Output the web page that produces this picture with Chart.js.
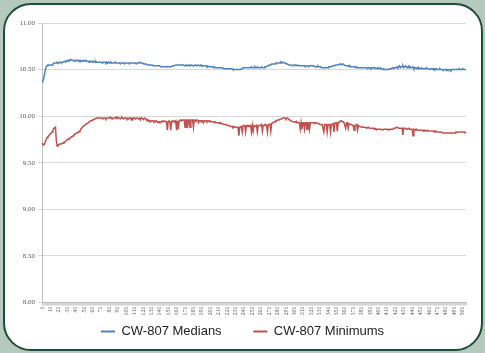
<!DOCTYPE html>
<html><head><meta charset="utf-8">
<script src="https://cdn.jsdelivr.net/npm/chart.js@4.4.0/dist/chart.umd.min.js"></script>
<style>
html,body{margin:0;padding:0;background:#b5c9bf;width:485px;height:353px;overflow:hidden;}
#frame{position:absolute;left:3px;top:3px;width:476px;height:344px;border:2px solid #1f4e36;border-radius:28px;background:#fff;}
#c{position:absolute;left:0;top:0;}
</style></head><body>
<div id="frame"></div>
<canvas id="c" width="485" height="353"></canvas>
<script>
const seriesNames = ['CW-807 Medians', 'CW-807 Minimums'];
const categories = Array.from({length: 505}, (_, i) => String(i + 1));
const yMin = 8, yMax = 11, yStep = 0.5;

const medians = [
10.37,10.38,10.40,10.45,10.50,10.53,10.54,10.55,10.55,10.55,
10.55,10.55,10.55,10.56,10.57,10.57,10.57,10.57,10.58,10.57,
10.57,10.58,10.58,10.57,10.58,10.58,10.58,10.59,10.58,10.59,
10.60,10.59,10.60,10.60,10.61,10.60,10.60,10.60,10.60,10.59,
10.60,10.60,10.59,10.60,10.60,10.59,10.60,10.59,10.59,10.60,
10.59,10.59,10.60,10.59,10.59,10.59,10.58,10.59,10.59,10.59,
10.58,10.59,10.58,10.58,10.59,10.58,10.58,10.58,10.58,10.58,
10.58,10.58,10.57,10.58,10.58,10.58,10.57,10.58,10.57,10.58,
10.57,10.57,10.58,10.57,10.57,10.57,10.57,10.58,10.57,10.57,
10.57,10.57,10.57,10.56,10.57,10.57,10.57,10.57,10.56,10.57,
10.57,10.57,10.57,10.57,10.56,10.57,10.57,10.57,10.57,10.57,
10.57,10.57,10.56,10.57,10.57,10.57,10.58,10.57,10.57,10.57,
10.57,10.56,10.56,10.56,10.56,10.55,10.55,10.55,10.55,10.55,
10.55,10.55,10.54,10.54,10.54,10.54,10.54,10.54,10.54,10.54,
10.54,10.53,10.53,10.53,10.53,10.53,10.53,10.53,10.53,10.53,
10.53,10.53,10.53,10.53,10.53,10.54,10.54,10.54,10.54,10.55,
10.55,10.55,10.55,10.55,10.55,10.55,10.55,10.55,10.55,10.54,
10.54,10.55,10.55,10.54,10.54,10.55,10.54,10.54,10.55,10.54,
10.54,10.54,10.55,10.55,10.54,10.55,10.55,10.54,10.54,10.55,
10.54,10.54,10.54,10.54,10.54,10.54,10.53,10.54,10.53,10.53,
10.53,10.53,10.53,10.53,10.52,10.53,10.52,10.52,10.52,10.52,
10.52,10.52,10.52,10.52,10.52,10.52,10.51,10.51,10.51,10.51,
10.51,10.51,10.51,10.51,10.51,10.51,10.51,10.50,10.50,10.50,
10.50,10.50,10.50,10.50,10.50,10.50,10.50,10.51,10.51,10.52,
10.52,10.52,10.52,10.52,10.52,10.52,10.52,10.52,10.52,10.53,
10.52,10.52,10.52,10.53,10.52,10.52,10.53,10.52,10.52,10.52,
10.52,10.53,10.52,10.52,10.52,10.53,10.53,10.53,10.54,10.54,
10.55,10.55,10.55,10.56,10.56,10.56,10.56,10.56,10.57,10.57,
10.57,10.57,10.57,10.57,10.58,10.57,10.58,10.58,10.57,10.57,
10.57,10.56,10.56,10.55,10.55,10.55,10.55,10.55,10.54,10.55,
10.55,10.55,10.54,10.54,10.55,10.54,10.54,10.54,10.54,10.54,
10.54,10.54,10.54,10.53,10.54,10.54,10.54,10.53,10.54,10.54,
10.54,10.54,10.54,10.54,10.53,10.53,10.53,10.53,10.54,10.53,
10.53,10.53,10.52,10.52,10.52,10.52,10.52,10.52,10.52,10.52,
10.52,10.53,10.53,10.53,10.53,10.54,10.54,10.54,10.54,10.55,
10.55,10.55,10.55,10.55,10.56,10.56,10.55,10.56,10.56,10.55,
10.55,10.54,10.54,10.54,10.54,10.53,10.54,10.53,10.53,10.53,
10.53,10.53,10.53,10.52,10.53,10.52,10.52,10.52,10.52,10.52,
10.52,10.52,10.52,10.52,10.52,10.52,10.52,10.51,10.52,10.52,
10.52,10.51,10.52,10.52,10.52,10.51,10.52,10.52,10.51,10.52,
10.51,10.51,10.52,10.51,10.51,10.50,10.51,10.50,10.50,10.50,
10.50,10.50,10.50,10.51,10.51,10.51,10.51,10.52,10.51,10.52,
10.52,10.52,10.53,10.52,10.53,10.54,10.52,10.53,10.53,10.54,
10.52,10.53,10.54,10.53,10.52,10.53,10.54,10.52,10.53,10.52,
10.52,10.53,10.51,10.52,10.52,10.51,10.52,10.51,10.52,10.51,
10.51,10.52,10.51,10.51,10.51,10.51,10.51,10.52,10.51,10.51,
10.51,10.50,10.51,10.51,10.51,10.50,10.51,10.50,10.51,10.51,
10.50,10.50,10.50,10.51,10.50,10.50,10.50,10.49,10.50,10.50,
10.50,10.49,10.50,10.49,10.50,10.50,10.49,10.50,10.50,10.50,
10.50,10.50,10.50,10.50,10.50,10.50,10.51,10.50,10.50,10.50,
10.51,10.50,10.50,10.50,10.50
];

const minimums = [
9.71,9.70,9.69,9.70,9.73,9.75,9.77,9.78,9.79,9.80,
9.81,9.82,9.83,9.85,9.87,9.87,9.88,9.74,9.68,9.69,
9.69,9.70,9.70,9.70,9.71,9.71,9.72,9.72,9.73,9.74,
9.75,9.75,9.76,9.76,9.77,9.78,9.78,9.79,9.80,9.81,
9.81,9.82,9.82,9.83,9.83,9.84,9.86,9.87,9.88,9.89,
9.90,9.90,9.91,9.92,9.92,9.93,9.94,9.94,9.95,9.95,
9.96,9.96,9.97,9.97,9.97,9.98,9.98,9.98,9.98,9.98,
9.98,9.98,9.97,9.98,9.98,9.98,9.97,9.98,9.98,9.98,
9.98,9.99,9.98,9.98,9.97,9.98,9.98,9.98,9.99,9.98,
9.99,9.98,9.98,9.97,9.98,9.99,9.98,9.97,9.98,9.98,
9.98,9.97,9.98,9.97,9.98,9.98,9.96,9.98,9.97,9.98,
9.98,9.97,9.98,9.98,9.98,9.97,9.98,9.96,9.98,9.98,
9.97,9.97,9.98,9.97,9.97,9.95,9.96,9.95,9.95,9.94,
9.95,9.95,9.95,9.94,9.95,9.94,9.95,9.94,9.93,9.94,
9.94,9.93,9.94,9.95,9.94,9.94,9.95,9.94,9.94,9.85,
9.94,9.95,9.94,9.85,9.94,9.95,9.94,9.95,9.94,9.95,
9.85,9.95,9.86,9.95,9.95,9.96,9.95,9.96,9.96,9.96,
9.88,9.96,9.96,9.87,9.96,9.96,9.88,9.96,9.96,9.96,
9.88,9.96,9.96,9.95,9.96,9.96,9.93,9.95,9.95,9.94,
9.95,9.95,9.93,9.95,9.95,9.95,9.94,9.95,9.95,9.94,
9.95,9.94,9.94,9.94,9.94,9.93,9.94,9.93,9.93,9.93,
9.93,9.92,9.93,9.92,9.92,9.92,9.91,9.91,9.91,9.91,
9.90,9.90,9.90,9.90,9.89,9.89,9.89,9.88,9.89,9.88,
9.88,9.88,9.88,9.88,9.79,9.88,9.89,9.89,9.83,9.90,
9.90,9.90,9.83,9.90,9.90,9.89,9.90,9.90,9.90,9.83,
9.90,9.84,9.90,9.90,9.89,9.90,9.83,9.90,9.90,9.90,
9.90,9.91,9.84,9.90,9.90,9.91,9.91,9.90,9.83,9.91,
9.91,9.92,9.84,9.92,9.93,9.93,9.94,9.94,9.95,9.95,
9.96,9.96,9.96,9.97,9.97,9.97,9.98,9.98,9.98,9.98,
9.97,9.98,9.98,9.97,9.96,9.96,9.95,9.95,9.94,9.94,
9.94,9.94,9.93,9.94,9.93,9.93,9.93,9.86,9.93,9.86,
9.93,9.93,9.86,9.93,9.93,9.86,9.93,9.93,9.86,9.93,
9.93,9.93,9.93,9.93,9.92,9.93,9.93,9.92,9.92,9.92,
9.91,9.91,9.91,9.91,9.91,9.83,9.91,9.91,9.91,9.83,
9.91,9.91,9.91,9.83,9.91,9.91,9.92,9.83,9.92,9.93,
9.93,9.84,9.93,9.94,9.94,9.95,9.95,9.94,9.94,9.93,
9.93,9.87,9.93,9.93,9.87,9.92,9.92,9.91,9.91,9.90,
9.90,9.85,9.90,9.90,9.91,9.85,9.90,9.89,9.89,9.89,
9.88,9.88,9.88,9.88,9.88,9.88,9.87,9.88,9.88,9.87,
9.87,9.87,9.87,9.87,9.87,9.86,9.87,9.86,9.86,9.86,
9.86,9.86,9.86,9.86,9.86,9.85,9.86,9.86,9.86,9.86,
9.86,9.86,9.85,9.86,9.86,9.86,9.86,9.86,9.87,9.87,
9.87,9.88,9.88,9.88,9.87,9.87,9.87,9.87,9.87,9.80,
9.87,9.87,9.87,9.86,9.86,9.86,9.87,9.86,9.86,9.86,
9.86,9.79,9.86,9.86,9.85,9.86,9.85,9.85,9.85,9.85,
9.85,9.85,9.85,9.84,9.85,9.85,9.84,9.84,9.85,9.84,
9.84,9.84,9.84,9.84,9.84,9.84,9.83,9.84,9.84,9.83,
9.83,9.83,9.83,9.83,9.83,9.83,9.82,9.82,9.82,9.82,
9.82,9.82,9.82,9.82,9.82,9.82,9.82,9.82,9.82,9.82,
9.82,9.82,9.83,9.83,9.83,9.83,9.83,9.83,9.83,9.83,
9.83,9.83,9.83,9.82,9.83
];

const blue = '#4F81BD', red = '#C0504D';

new Chart(document.getElementById('c'), {
  type: 'line',
  data: {
    labels: categories,
    datasets: [
      {label: seriesNames[0], data: medians, borderColor: blue, backgroundColor: blue, borderWidth: 1.5, pointRadius: 0, tension: 0},
      {label: seriesNames[1], data: minimums, borderColor: red, backgroundColor: red, borderWidth: 1.5, pointRadius: 0, tension: 0}
    ]
  },
  options: {
    responsive: false, animation: false, devicePixelRatio: 1,
    layout: {padding: {top: 23, left: 19, right: 19, bottom: 5}},
    plugins: {
      tooltip: {enabled: false},
      legend: {
        position: 'bottom',
        labels: {
          boxWidth: 14, boxHeight: 2, padding: 10,
          font: {family: 'Liberation Sans', size: 13}, color: '#222',
          generateLabels: (chart) => {
            const items = Chart.defaults.plugins.legend.labels.generateLabels(chart);
            items.forEach(it => { it.lineWidth = 0; });
            items[0].text += '      ';
            return items;
          }
        }
      }
    },
    scales: {
      x: {
        grid: {display: true, drawOnChartArea: false, drawTicks: true, tickLength: 3, color: '#d4d4d4'},
        border: {color: '#bfbfbf'},
        ticks: {autoSkip: false, minRotation: 90, maxRotation: 90, padding: 1,
          font: {family: 'Liberation Serif', size: 6}, color: '#595959',
          callback: (v, i) => (i % 10 === 0 ? categories[i] : '')},
        afterFit: s => { s.height = 12.5; }
      },
      y: {
        min: yMin, max: yMax,
        ticks: {stepSize: yStep, callback: v => Number(v).toFixed(2),
          font: {family: 'Liberation Serif', size: 7}, color: '#595959', padding: 3},
        grid: {color: '#d9d9d9', tickLength: 4},
        border: {color: '#bfbfbf'},
        afterFit: s => { s.width = 23; }
      }
    }
  }
});
</script></body></html>
